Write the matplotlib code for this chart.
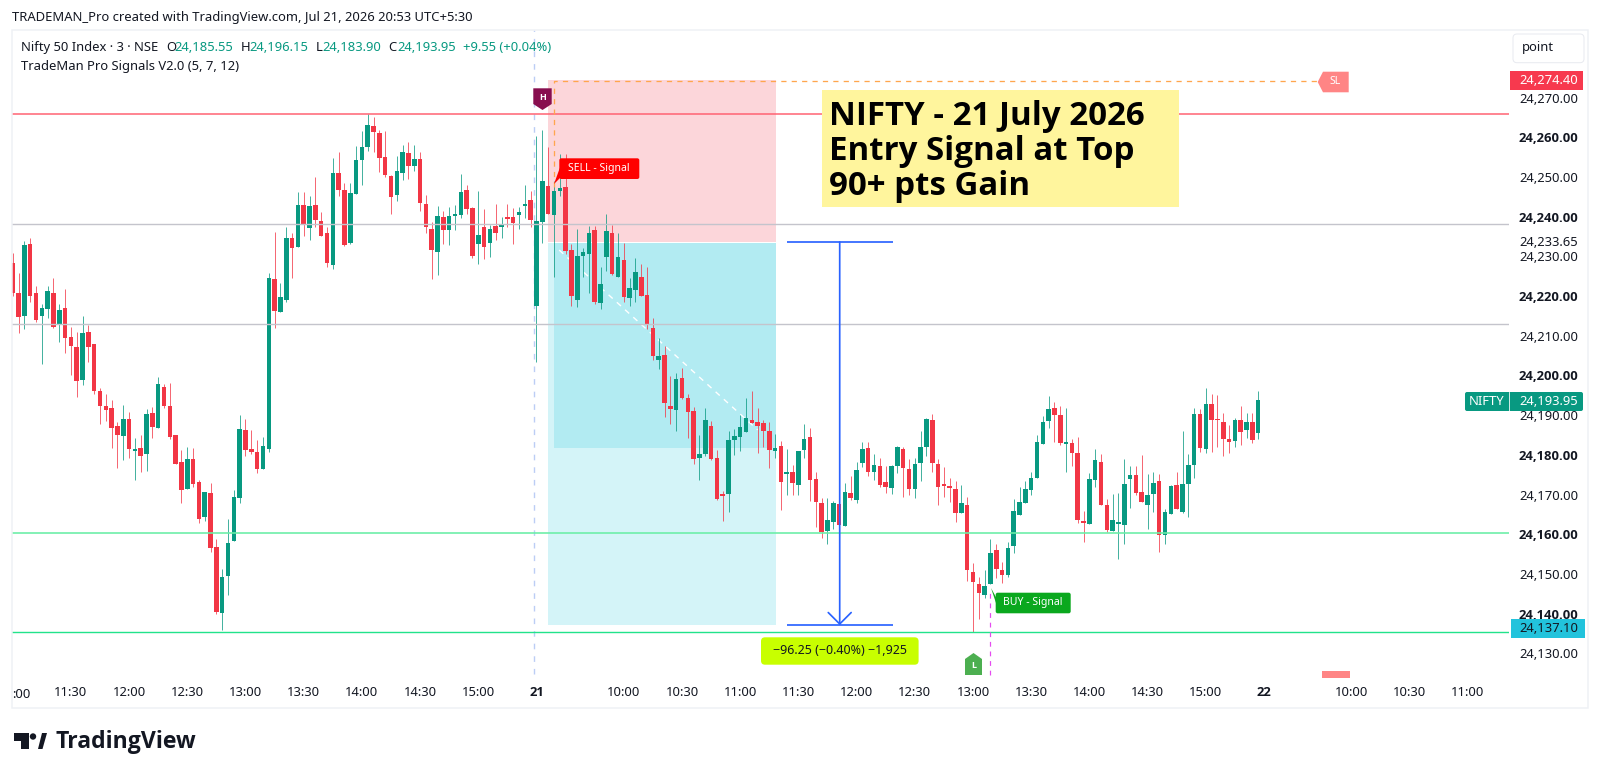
import matplotlib
matplotlib.use("Agg")
import matplotlib.pyplot as plt
from matplotlib.patches import Polygon, Rectangle, FancyBboxPatch
from matplotlib.transforms import Bbox

plt.rcParams['font.family'] = ['Noto Sans', 'DejaVu Sans']
BOLD_FAMILY = ['Open Sans', 'DejaVu Sans']

# ---------- data (3-minute candles, NIFTY 50) ----------
bar_open = [
 24228.4,24220.8,24215.0,24233.2,24220.8,24214.9,24216.7,24220.8,24212.6,24217.0,
 24209.6,24207.3,24198.9,24211.0,24208.0,24196.0,24192.4,24191.7,24187.3,24184.8,
 24189.1,24181.1,24181.7,24180.1,24190.6,24186.7,24197.0,24192.4,24184.9,24178.1,
 24171.3,24178.9,24173.1,24164.4,24170.4,24156.8,24140.1,24149.5,24158.3,24169.1,
 24186.2,24181.5,24180.7,24176.5,24181.6,24224.4,24215.9,24219.0,24234.6,24232.4,
 24243.0,24237.1,24243.0,24239.0,24235.9,24227.8,24251.0,24246.8,24233.4,24245.7,
 24254.3,24257.5,24262.8,24261.2,24255.0,24250.3,24245.4,24250.9,24256.1,24252.8,
 24254.5,24243.2,24237.0,24231.2,24239.9,24236.7,24240.1,24240.4,24246.7,24242.3,
 24233.1,24237.3,24233.4,24237.6,24237.3,24239.9,24239.9,24240.4,24242.8,24244.3,
 24217.6,24238.7,24247.8,24240.5,24246.4,24247.5,24231.6,24219.1,24230.0,24230.7,
 24236.6,24218.2,24229.8,24235.9,24224.9,24229.0,24219.6,24221.6,24224.8,24220.2,
 24211.9,24204.0,24205.1,24192.4,24191.2,24199.3,24194.3,24191.1,24179.1,24180.2,
 24187.3,24179.1,24170.2,24170.1,24183.8,24184.5,24185.8,24188.9,24188.2,24188.0,
 24186.0,24181.0,24182.2,24175.3,24175.7,24172.4,24181.2,24184.4,24173.9,24168.0,
 24160.9,24163.1,24167.7,24162.1,24170.4,24168.6,24178.0,24181.7,24175.6,24177.3,
 24173.1,24171.6,24177.2,24181.5,24176.5,24171.3,24178.0,24182.1,24188.9,24177.7,
 24172.4,24172.1,24171.3,24165.3,24167.5,24150.4,24147.5,24144.7,24147.6,24156.0,
 24151.1,24149.7,24157.0,24164.9,24167.8,24171.2,24174.1,24182.8,24188.5,24191.8,
 24190.0,24182.8,24183.1,24180.4,24163.3,24162.5,24173.8,24178.2,24167.4,24160.9,
 24162.5,24162.3,24174.0,24174.9,24170.7,24167.4,24170.1,24173.3,24159.7,24165.2,
 24172.4,24165.5,24172.7,24177.5,24190.4,24181.6,24192.8,24189.0,24188.4,24184.0,
 24183.6,24188.8,24186.3,24188.2,24185.55,
]
bar_high = [
 24230.9,24225.7,24233.9,24234.6,24222.6,24218.1,24222.6,24224.6,24218.1,24221.9,
 24212.1,24211.0,24215.0,24212.7,24208.0,24196.8,24195.4,24193.8,24188.2,24192.6,
 24190.7,24184.2,24185.0,24191.5,24192.0,24199.5,24197.8,24198.0,24184.9,24181.2,
 24181.9,24181.7,24173.7,24170.7,24172.8,24158.8,24151.2,24163.8,24171.2,24190.0,
 24189.0,24186.3,24183.8,24184.4,24225.8,24236.1,24223.2,24237.3,24235.8,24246.2,
 24246.3,24245.2,24249.9,24241.2,24237.3,24254.9,24256.4,24248.5,24248.4,24257.8,
 24261.5,24265.9,24265.0,24261.8,24261.5,24250.5,24255.3,24258.1,24258.8,24258.1,
 24256.4,24245.4,24238.6,24242.7,24241.4,24242.5,24242.9,24250.8,24248.1,24242.5,
 24246.4,24241.9,24237.9,24243.2,24239.9,24243.2,24242.3,24242.5,24248.1,24246.5,
 24260.3,24261.9,24257.5,24248.9,24255.7,24255.7,24233.1,24236.8,24232.2,24237.7,
 24237.7,24227.3,24240.6,24237.9,24235.8,24233.3,24224.5,24229.5,24228.1,24227.3,
 24214.4,24209.4,24207.5,24199.9,24200.7,24202.0,24195.4,24192.0,24184.9,24191.7,
 24188.6,24181.2,24170.8,24186.0,24186.4,24190.0,24194.3,24196.2,24191.8,24188.9,
 24188.2,24185.3,24183.5,24181.5,24177.5,24181.1,24187.8,24186.7,24175.7,24169.1,
 24169.1,24168.4,24168.6,24172.8,24174.7,24178.1,24183.3,24183.2,24180.2,24179.3,
 24177.3,24177.5,24182.2,24181.9,24178.9,24179.3,24186.0,24189.2,24190.2,24178.9,
 24176.9,24174.2,24173.5,24172.4,24169.3,24152.7,24149.2,24151.0,24158.7,24157.6,
 24153.1,24158.1,24168.8,24171.8,24173.5,24175.8,24184.9,24189.8,24194.8,24193.3,
 24192.2,24191.7,24184.0,24184.4,24165.8,24175.5,24181.4,24180.2,24168.8,24170.2,
 24170.3,24178.9,24177.3,24177.3,24180.0,24175.2,24175.6,24175.2,24166.4,24172.3,
 24175.8,24186.0,24180.2,24191.7,24191.5,24196.8,24195.4,24195.1,24190.5,24187.5,
 24189.4,24192.2,24190.6,24190.5,24196.15,
]
bar_low = [
 24220.0,24210.8,24211.8,24218.4,24213.5,24202.8,24214.6,24212.0,24208.5,24205.6,
 24200.1,24194.7,24197.6,24203.3,24195.3,24187.8,24188.6,24181.7,24176.8,24178.7,
 24179.3,24173.8,24175.8,24176.0,24184.3,24186.7,24191.7,24183.9,24177.6,24167.8,
 24171.3,24172.0,24162.9,24163.4,24155.6,24139.8,24135.9,24144.7,24158.3,24167.8,
 24179.6,24180.2,24175.4,24176.5,24180.8,24212.0,24215.9,24218.6,24224.6,24232.4,
 24235.1,24234.2,24237.5,24235.1,24227.4,24226.9,24245.3,24232.7,24233.2,24245.7,
 24248.0,24256.6,24256.4,24251.3,24250.0,24240.8,24243.9,24249.2,24249.5,24251.5,
 24241.5,24236.0,24224.4,24225.3,24233.0,24232.8,24236.6,24239.7,24240.8,24229.7,
 24228.2,24229.3,24229.9,24234.1,24234.6,24237.5,24233.1,24236.8,24239.7,24237.5,
 24203.3,24233.5,24240.7,24224.8,24245.3,24230.6,24217.4,24217.2,24224.7,24220.7,
 24218.0,24216.7,24226.2,24225.2,24224.9,24218.5,24217.4,24218.6,24219.9,24211.6,
 24203.9,24201.6,24189.6,24187.8,24185.9,24194.0,24184.3,24177.7,24173.8,24179.7,
 24178.7,24168.6,24163.4,24165.5,24180.0,24181.1,24185.8,24188.0,24180.4,24182.0,
 24176.7,24179.1,24166.2,24169.9,24170.0,24169.8,24179.3,24168.4,24161.8,24159.1,
 24157.6,24161.4,24160.9,24162.1,24168.6,24168.0,24177.0,24174.7,24173.7,24171.8,
 24170.5,24170.2,24175.4,24169.4,24169.9,24169.2,24173.5,24179.8,24175.8,24167.4,
 24169.5,24168.2,24163.2,24165.3,24148.3,24135.3,24138.7,24144.0,24147.6,24148.9,
 24147.8,24149.2,24155.4,24164.9,24167.8,24169.9,24174.1,24182.8,24186.7,24183.3,
 24182.6,24175.8,24177.3,24162.9,24158.1,24162.5,24171.8,24167.4,24160.7,24160.9,
 24153.9,24157.6,24166.7,24169.9,24168.2,24161.4,24165.5,24155.6,24157.6,24165.2,
 24166.3,24165.4,24164.4,24174.2,24180.7,24180.4,24180.8,24181.9,24179.6,24180.4,
 24181.9,24182.5,24184.2,24183.1,24183.90,
]
bar_close = [
 24220.8,24214.8,24232.8,24220.1,24213.9,24217.0,24221.2,24212.2,24216.4,24209.4,
 24207.5,24198.5,24210.6,24207.3,24196.0,24192.3,24191.2,24186.7,24184.9,24189.1,
 24181.6,24181.4,24179.8,24190.4,24187.1,24197.8,24192.3,24184.6,24177.6,24171.2,
 24178.9,24172.7,24163.9,24170.7,24156.5,24140.3,24149.2,24157.7,24169.5,24186.4,
 24181.2,24180.7,24176.5,24182.2,24224.6,24216.3,24219.7,24234.6,24232.0,24243.0,
 24237.8,24242.6,24239.1,24235.1,24228.4,24251.0,24246.7,24232.8,24245.9,24254.3,
 24257.5,24263.2,24261.3,24254.8,24250.4,24244.9,24251.5,24256.3,24252.8,24254.5,
 24243.5,24237.4,24231.6,24240.3,24236.7,24240.2,24240.8,24246.1,24242.0,24230.0,
 24235.4,24232.4,24236.8,24235.8,24238.0,24239.5,24238.5,24241.2,24243.1,24239.1,
 24238.8,24248.9,24240.7,24246.4,24247.3,24231.4,24220.0,24230.1,24231.0,24235.9,
 24218.6,24223.0,24236.3,24225.6,24229.8,24219.8,24222.0,24226.0,24220.1,24212.6,
 24204.8,24204.8,24193.0,24191.6,24199.0,24194.3,24190.7,24179.0,24180.1,24188.7,
 24179.0,24168.9,24169.7,24183.8,24184.7,24187.1,24189.3,24188.0,24187.2,24185.9,
 24181.2,24181.7,24173.2,24175.6,24172.8,24180.9,24183.9,24173.8,24168.1,24160.5,
 24163.5,24167.8,24162.3,24170.7,24169.1,24176.2,24181.5,24175.6,24177.5,24172.4,
 24172.0,24177.3,24182.0,24176.7,24171.4,24177.7,24182.0,24189.0,24177.9,24171.8,
 24172.2,24171.7,24165.4,24167.8,24151.0,24147.9,24145.3,24147.0,24155.3,24151.2,
 24149.8,24156.5,24165.8,24168.1,24171.5,24174.2,24183.3,24188.2,24191.5,24190.0,
 24182.9,24183.3,24180.4,24163.6,24162.8,24173.9,24178.7,24167.4,24161.1,24163.6,
 24163.1,24172.7,24174.9,24170.5,24168.2,24169.9,24172.9,24159.9,24165.5,24172.2,
 24166.3,24172.7,24177.5,24190.2,24181.8,24192.8,24188.7,24188.7,24184.0,24183.3,
 24188.8,24185.8,24188.4,24183.8,24193.95,
]

price_ticks = [24130,24140,24150,24160,24170,24180,24190,24200,24210,24220,24230,24240,24250,24260,24270]
bold_prices = [24140,24160,24180,24200,24220,24240,24260]
time_ticks = [10,20,30,40,50,60,70,80,90,105,115,125,135,145,155,165,175,185,195,205,215,230,240,250]
time_labels = ["11:30","12:00","12:30","13:00","13:30","14:00","14:30","15:00","21",
               "10:00","10:30","11:00","11:30","12:00","12:30","13:00","13:30","14:00","14:30","15:00","22",
               "10:00","10:30","11:00"]
bold_times = ["21","22"]

level_red = 24265.9
levels_gray = [24238.1, 24213.0]
level_green = 24160.4
level_low = 24135.3
entry_price = 24233.65
stop_price = 24274.40
target_price = 24137.10
current_low = 24181.8
last_price = 24193.95

C_UP, C_DN = "#089981", "#f23645"
TEXT = "#131722"
PX = 0.72  # points per pixel at dpi 100
W, H = 1600, 775

fig = plt.figure(figsize=(16, 7.75), dpi=100, facecolor="white")
L, R, T, B = 12, 1509, 30, 678
ax = fig.add_axes([L/W, 1-B/H, (R-L)/W, (B-T)/H])
ax.set_xlim(-0.12, 257.1)
ax.set_ylim(24123.8, 24287.03)
for s in ax.spines.values():
    s.set_visible(False)

# position tool regions
ax.fill_between([92, 131.15], entry_price, stop_price, color="#fcd6da", lw=0, zorder=1)
ax.fill_between([92, 131.15], target_price, entry_price-0.2, color="#d4f4f8", lw=0, zorder=1)
ax.fill_between([93, 131.15], current_low, entry_price-0.2, color="#b2ebf2", lw=0, zorder=1.1)
ax.plot([93.9, 128], [24231.6, 24186.3], color="white", lw=1, ls=(0, (4, 4)), zorder=1.2)

# candles
xs = list(range(len(bar_open)))
cols = [C_UP if c >= o else C_DN for o, c in zip(bar_open, bar_close)]
ax.vlines(xs, bar_low, bar_high, colors=cols, lw=1.0*PX, alpha=0.75, zorder=3)
ax.bar(xs, [max(abs(c-o), 0.35) for o, c in zip(bar_open, bar_close)],
       bottom=[min(o, c) for o, c in zip(bar_open, bar_close)],
       width=0.78, color=cols, lw=0, zorder=3.2)

# levels
ax.axhline(level_red, color="#ff6070", lw=1.5*PX, zorder=4)
for lv in levels_gray:
    ax.axhline(lv, color="#c4c4cc", lw=1.4*PX, zorder=4)
ax.axhline(level_green, color="#69eea6", lw=1.6*PX, zorder=4)
ax.axhline(level_low, color="#22e38b", lw=1.4*PX, zorder=4)

# session separator, stop dashes, buy dashes
ax.vlines(89.5, 24124.8, 24287, color="#bccdf5", lw=1.4*PX, ls=(0, (4, 5)), zorder=2)
ax.plot([93, 93, 224.3], [24247.5, 24274.1, 24274.1], color="#ffa64d", lw=1.3*PX, ls=(0, (4, 4)), zorder=4.5)
ax.vlines(168, 24124.5, 24146, color="#e44bf0", lw=1.2*PX, ls=(0, (4, 4)), zorder=4.5)

# measure tool
BLUE = "#2962ff"
ax.hlines([entry_price, target_price], 132.96, 151.2, color=BLUE, lw=1.7*PX, zorder=5)
ax.annotate("", xy=(142.1, target_price), xytext=(142.1, entry_price),
            arrowprops=dict(arrowstyle="->,head_length=0.55,head_width=0.55", color=BLUE,
                            lw=1.7*PX, shrinkA=0, shrinkB=0, mutation_scale=15), zorder=5)

# axes ticks
ax.yaxis.tick_right()
ax.set_yticks(price_ticks)
ax.set_yticklabels([f"{p:,.2f}" for p in price_ticks])
ax.tick_params(axis="y", length=0, pad=10*PX, labelsize=13*PX, labelcolor=TEXT)
for lab, p in zip(ax.get_yticklabels(), price_ticks):
    if p in bold_prices:
        lab.set_family(BOLD_FAMILY)
        lab.set_fontweight("bold")
ax.set_xticks(time_ticks)
ax.set_xticklabels(time_labels)
ax.tick_params(axis="x", length=0, pad=8*PX, labelsize=13*PX, labelcolor=TEXT)
for lab, t in zip(ax.get_xticklabels(), time_labels):
    if t in bold_times:
        lab.set_family(BOLD_FAMILY)
        lab.set_fontweight("bold")

# ---------- chrome overlay in pixel coordinates ----------
ov = fig.add_axes([0, 0, 1, 1], zorder=10)
ov.set_xlim(0, W)
ov.set_ylim(H, 0)
ov.axis("off")
ov.patch.set_alpha(0)

def rect(x0, y0, x1, y1, fc, ec="none", lw=0, z=5):
    ov.add_patch(Rectangle((x0, y0), x1-x0, y1-y0, fc=fc, ec=ec, lw=lw, zorder=z))

def rrect(x0, y0, x1, y1, fc, ec="none", lw=0, r=3, z=6):
    ov.add_patch(FancyBboxPatch((x0+r, y0+r), x1-x0-2*r, y1-y0-2*r,
                                boxstyle=f"round,pad={r},rounding_size={r}",
                                fc=fc, ec=ec, lw=lw, zorder=z))

def poly(pts, fc, z=6):
    ov.add_patch(Polygon(pts, closed=True, fc=fc, ec="none", zorder=z))

def txt(x, y, s, size=13, color=TEXT, ha="left", va="center", weight="normal", z=7, **kw):
    if weight == "bold":
        kw["family"] = BOLD_FAMILY
    return ov.text(x, y, s, fontsize=size*PX, color=color, ha=ha, va=va, fontweight=weight, zorder=z, **kw)

# frame
rect(11.5, 30, 1588, 708, "none", ec="#eff1f5", lw=1.5*PX, z=1)

# first time label, cut by the frame in the original view
txt(12, 694, ":00", size=13)

# header
txt(11.8, 17, "TRADEMAN_Pro created with TradingView.com, Jul 21, 2026 20:53 UTC+5:30", size=13)
txt(20.7, 47.7, "Nifty 50 Index · 3 · NSE", size=13)
txt(20.7, 66.3, "TradeMan Pro Signals V2.0 (5, 7, 12)", size=13)
for x_l, l_t, x_v, v_t in [(166, "O", 174, "24,185.55"), (241, "H", 249, "24,196.15"),
                           (316, "L", 322.5, "24,183.90"), (388.6, "C", 397, "24,193.95")]:
    txt(x_l, 47.7, l_t, size=13)
    txt(x_v, 47.7, v_t, size=13, color=C_UP)
txt(463, 47.7, "+9.55 (+0.04%)", size=13, color=C_UP)

# point box
rrect(1513, 34, 1584, 62.7, "white", ec="#e8eaf0", lw=1*PX, r=4)
txt(1538, 48, "point", size=13, ha="center")

# price tags
rect(1510, 71, 1583, 90, "#f7394e")
txt(1519.5, 80.5, "24,274.40", size=13, color="white")
rrect(1465, 392, 1583, 411, "#089981", r=2)
ov.plot([1509, 1509], [392, 411], color="white", lw=0.8*PX, zorder=6.5)
txt(1487, 401.5, "NIFTY", size=13, color="white", ha="center")
txt(1519.5, 401.5, "24,193.95", size=13, color="white")
rect(1511, 619, 1584.5, 637.7, "#22c3dc")
txt(1519.5, 628, "24,137.10", size=13)
txt(1519.5, 243, "24,233.65", size=13, bbox=dict(fc="white", ec="none", pad=0.6))

# signals
poly([(533.3, 88.3), (551.7, 88.3), (551.7, 104), (542.5, 110), (533.3, 104)], "#880e4f")
txt(542.5, 97, "H", size=9, color="white", ha="center", weight="bold")
rrect(559.3, 158.3, 639.3, 179, "#ff0000", r=2)
poly([(554, 184), (559.8, 168), (562, 176)], "#ff0000")
txt(599.3, 168.5, "SELL - Signal", size=10.5, color="white", ha="center")
rrect(995.7, 592.7, 1070.7, 613.3, "#0aa81e", r=2)
poly([(991, 588), (997, 599), (997, 606)], "#0aa81e")
txt(1033, 603, "BUY - Signal", size=10.5, color="white", ha="center")
poly([(973.5, 653), (982, 659), (982, 675), (965, 675), (965, 659)], "#4caf50")
txt(973.5, 666, "L", size=9, color="white", ha="center", weight="bold")
poly([(1317.7, 82), (1323, 71.7), (1348.7, 71.7), (1348.7, 92.3), (1323, 92.3)], "#ff8585")
txt(1335, 82, "SL", size=10.5, color="white", ha="center")
rect(1322, 671, 1350, 678, "#ff8585")

# pnl box
rrect(761, 637.3, 918.6, 664.7, "#c8ff00", r=4)
txt(840, 651, "−96.25 (−0.40%) −1,925", size=12.5, ha="center")

# headline
rect(821.7, 90, 1178.7, 206.7, "#fff59d", z=6)
for yy, s in zip([125, 160, 195], ["NIFTY - 21 July 2026", "Entry Signal at Top", "90+ pts Gain"]):
    txt(829, yy, s, size=33, color="black", va="baseline", weight="bold")

# TradingView logo
poly([(13.6, 733), (29, 733), (29, 749), (21, 749), (21, 741), (13.6, 741)], "#131722")
ov.add_patch(plt.Circle((33, 736.5), 3.2, fc="#131722", ec="none", zorder=6))
poly([(38, 749), (42, 733), (47, 733), (42.5, 749)], "#131722")
txt(55.4, 741.5, "TradingView", size=23, weight="bold", color="#131722")

fig.savefig("out.png", dpi=100)
